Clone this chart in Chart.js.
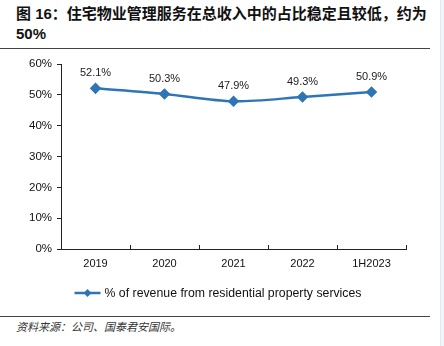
<!DOCTYPE html>
<html>
<head>
<meta charset="utf-8">
<script src="https://cdn.jsdelivr.net/npm/chart.js@4"></script>
<style>
  html, body { margin: 0; padding: 0; background: #fff; }
  body { width: 444px; height: 346px; position: relative; overflow: hidden;
         font-family: "Liberation Sans", "Noto Sans CJK SC", sans-serif; }
  .title { position: absolute; left: 16px; top: 4px; width: 420px;
           font-size: 15px; font-weight: bold; line-height: 20px; color: #111; }
  .rule { position: absolute; left: 0; width: 430px; height: 1px; background: #444; }
  .source { position: absolute; left: 16px; top: 318px; font-size: 11px;
            font-style: italic; color: #333; }
  .edge { position: absolute; left: 440px; top: 0; width: 4px; height: 346px;
          background: #f3f6f9; border-left: 1px solid #e4e9ef; }
  #wrap { position: absolute; left: 0; top: 52px; width: 444px; height: 258px; }
</style>
</head>
<body>
<div class="title">图 16：住宅物业管理服务在总收入中的占比稳定且较低，约为 50%</div>
<div class="rule" style="top:48px"></div>
<div id="wrap"><canvas id="myChart"></canvas></div>
<div class="rule" style="top:316px"></div>
<div class="source">资料来源：公司、国泰君安国际。</div>
<div class="edge"></div>
<script>
const years = ["2019", "2020", "2021", "2022", "1H2023"];
const residentialShare = [52.1, 50.3, 47.9, 49.3, 50.9];
const yTicks = [0, 10, 20, 30, 40, 50, 60];
const seriesName = "% of revenue from residential property services";
const lineColor = "#2E75B6";

// point values printed above each marker
const valueLabels = {
  id: "valueLabels",
  afterDatasetsDraw(chart) {
    const { ctx } = chart;
    const meta = chart.getDatasetMeta(0);
    ctx.save();
    ctx.font = "11px 'Liberation Sans'";
    ctx.fillStyle = "#222";
    ctx.textAlign = "center";
    ctx.textBaseline = "middle";
    meta.data.forEach((pt, i) => {
      ctx.fillText(residentialShare[i].toFixed(1) + "%", pt.x, pt.y - 15);
    });
    ctx.restore();
  },
};

// small upward ticks between categories on the x axis
const xTickMarks = {
  id: "xTickMarks",
  afterDraw(chart) {
    const { ctx, chartArea } = chart;
    const step = (chartArea.right - chartArea.left) / years.length;
    ctx.save();
    ctx.strokeStyle = "#222";
    ctx.lineWidth = 1;
    for (let i = 1; i <= years.length; i++) {
      const x = Math.round(chartArea.left + step * i) + 0.5;
      ctx.beginPath();
      ctx.moveTo(x, chartArea.bottom);
      ctx.lineTo(x, chartArea.bottom - 4);
      ctx.stroke();
    }
    ctx.restore();
  },
};

// legend: line with diamond and series name, below the axis
const lineLegend = {
  id: "lineLegend",
  afterDraw(chart) {
    const { ctx, width } = chart;
    const y = 241;
    ctx.save();
    ctx.font = "12.3px 'Liberation Sans'";
    const tw = ctx.measureText(seriesName).width;
    const total = 26 + 4 + tw;
    const x0 = width / 2 - 4 - total / 2;
    ctx.strokeStyle = lineColor;
    ctx.lineWidth = 2.5;
    ctx.beginPath();
    ctx.moveTo(x0, y);
    ctx.lineTo(x0 + 26, y);
    ctx.stroke();
    ctx.fillStyle = lineColor;
    ctx.beginPath();
    ctx.moveTo(x0 + 13, y - 4);
    ctx.lineTo(x0 + 17, y);
    ctx.lineTo(x0 + 13, y + 4);
    ctx.lineTo(x0 + 9, y);
    ctx.closePath();
    ctx.fill();
    ctx.fillStyle = "#111";
    ctx.textBaseline = "middle";
    ctx.fillText(seriesName, x0 + 30, y + 1);
    ctx.restore();
  },
};

const ctx = document.getElementById("myChart").getContext("2d");

const myChart = new Chart(ctx, {
  type: "line",
  data: {
    labels: years,
    datasets: [
      {
        label: seriesName,
        data: residentialShare,
        borderColor: lineColor,
        backgroundColor: lineColor,
        borderWidth: 2.5,
        tension: 0.3,
        pointStyle: "rectRot",
        pointRadius: 4,
        pointHoverRadius: 4,
      },
    ],
  },
  options: {
    responsive: true,
    maintainAspectRatio: false,
    animation: false,
    layout: { padding: { left: 0, right: 38, top: 12, bottom: 31 } },
    plugins: {
      legend: { display: false },
      tooltip: { enabled: false },
    },
    scales: {
      x: {
        offset: true,
        grid: { display: true, drawOnChartArea: false, drawTicks: false, offset: true, color: "transparent" },
        border: { display: true, color: "#222", width: 1 },
        ticks: { color: "#111", font: { size: 11, family: "Liberation Sans" }, padding: 8, maxRotation: 0 },
        afterFit: (s) => { s.height = 30; },
      },
      y: {
        min: 0,
        max: 60,
        afterBuildTicks: (s) => { s.ticks = yTicks.map((v) => ({ value: v })); },
        grid: { drawOnChartArea: false, drawTicks: true, tickLength: 4, color: "#222" },
        border: { display: true, color: "#222", width: 1 },
        ticks: {
          color: "#111",
          font: { size: 11.5, family: "Liberation Sans" },
          padding: 5,
          callback: (v) => v + "%",
        },
        afterFit: (s) => { s.width = 61; },
      },
    },
  },
  plugins: [valueLabels, xTickMarks, lineLegend],
});
</script>
</body>
</html>
